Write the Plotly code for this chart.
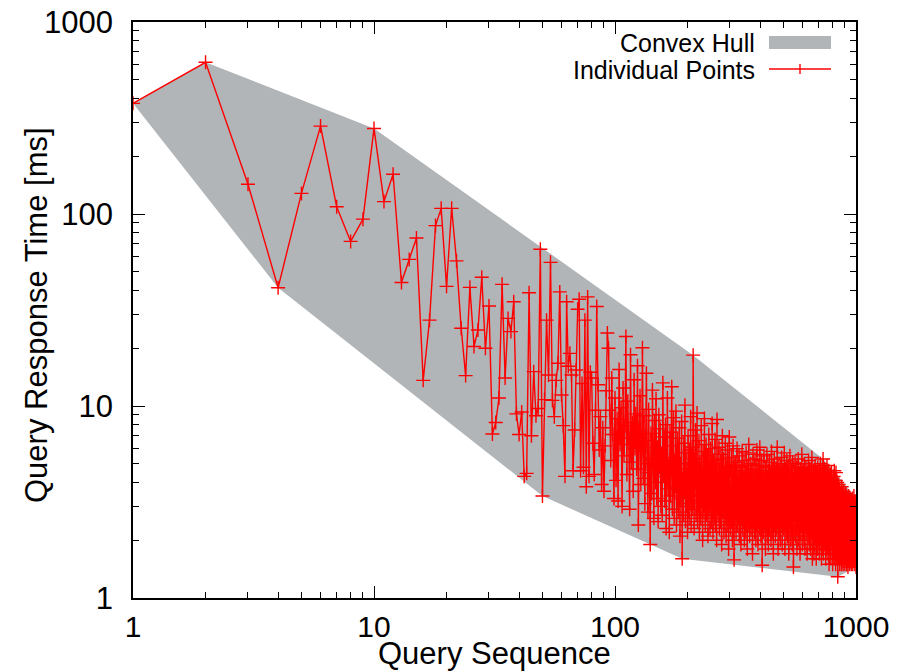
import math
import plotly.graph_objects as go

# ---------------- data ----------------
response_ms = [
    # 1-35
    377, 617, 143, 41.3, 128, 287, 109, 72, 94, 279,
    116, 161, 44, 58, 75, 13.6, 28, 87, 107, 42,
    107, 57, 25.4, 14.4, 41.5, 20.4, 24.9, 46.8, 20, 33.2,
    7.15, 8.2, 11, 43, 14,
    # 36-100
    28.6, 24.4, 34.9, 9.1, 7.1, 9.3, 4.3, 4.46, 38.9, 7.0,
    15.1, 8.9, 9.7, 65.5, 3.4, 10.8, 28, 14.5, 56, 10.7,
    8.8, 13.6, 16.7, 39.3, 11.4, 7.9, 4.3, 34.9, 16.1, 18.8,
    14.5, 4.6, 7.5, 15.4, 31.9, 36, 4.6, 13.1, 4.8, 28,
    3.8, 37, 4.3, 15, 14, 6.4, 4.4, 9.5, 33, 12.9,
    5.9, 8.8, 3.9, 7.7, 3.6, 6.2, 12, 24, 20, 9.5,
    5.2, 14, 7.1, 3.3, 11,
    # 101-200
    4.1, 8.6, 3.2, 15.5, 6.3, 9.8, 3.0, 12.4, 5.5, 7.9, 23, 4.4, 10.6, 6.8, 2.9, 18.5, 5.1, 8.2, 3.6, 13.7,
    6.0, 9.1, 4.7, 16.2, 2.4, 7.4, 11.3, 3.9, 5.8, 20.1, 4.2, 8.9, 3.1, 6.6, 14.8, 5.0, 2.8, 9.6, 4.5, 1.9,
    7.2, 3.5, 12.1, 5.3, 2.6, 8.4, 4.0, 10.9, 3.3, 6.1, 2.5, 9.0, 4.8, 7.6, 3.0, 5.6, 2.7, 13.2, 4.3, 6.9,
    3.2, 8.0, 2.3, 5.4, 11.0, 3.7, 4.9, 2.2, 7.3, 3.4, 6.2, 12.6, 2.9, 4.6, 8.7, 2.6, 5.2, 3.8, 9.4, 2.4,
    4.4, 6.8, 2.8, 3.9, 7.7, 2.1, 5.0, 3.3, 8.3, 1.6, 4.2, 2.7, 6.4, 3.6, 10.1, 2.5, 5.7, 3.0, 4.7, 2.2,
    # 201-300
    7.0, 3.5, 2.6, 5.9, 3.1, 8.8, 2.4, 4.5, 6.1, 2.9, 18.4, 3.8, 2.3, 5.3, 4.0, 7.5, 2.7, 3.4, 9.2, 2.5,
    4.8, 3.0, 6.6, 2.2, 5.1, 3.7, 2.6, 7.9, 3.2, 4.3, 2.0, 5.8, 3.5, 2.8, 8.6, 3.9, 2.4, 4.6, 6.3, 2.7,
    3.3, 5.5, 2.1, 4.1, 7.1, 2.9, 3.6, 2.3, 6.0, 3.1, 4.9, 2.5, 8.1, 3.4, 2.2, 5.2, 3.8, 2.6, 4.4, 6.7,
    2.4, 3.5, 5.0, 2.0, 8.5, 3.2, 4.2, 2.7, 3.9, 6.1, 2.3, 4.7, 3.0, 2.5, 5.6, 3.6, 1.9, 4.0, 7.0, 2.8,
    3.4, 5.3, 2.2, 4.5, 3.1, 2.6, 6.4, 3.7, 2.1, 4.8, 3.3, 2.4, 5.9, 2.9, 3.8, 1.8, 4.3, 6.9, 2.7, 3.5,
    # 301-400
    2.3, 4.6, 3.0, 5.4, 2.5, 3.9, 2.0, 4.1, 6.2, 2.8, 3.4, 1.58, 4.9, 3.1, 2.6, 5.1, 3.6, 2.2, 4.4, 2.9,
    6.0, 3.3, 2.4, 4.0, 2.7, 3.7, 5.5, 2.1, 3.2, 4.6, 2.5, 3.9, 1.9, 4.8, 3.0, 2.6, 5.8, 3.5, 2.3, 4.2,
    2.8, 3.4, 5.2, 2.0, 3.8, 2.5, 4.5, 3.1, 2.2, 5.7, 3.6, 2.7, 4.1, 1.8, 3.3, 4.9, 2.4, 3.0, 6.3, 2.6,
    3.7, 2.1, 4.4, 3.2, 2.8, 5.0, 2.3, 3.9, 2.6, 4.7, 3.4, 1.7, 3.1, 5.6, 2.5, 3.6, 2.9, 4.2, 2.2, 3.5,
    5.3, 2.7, 3.8, 2.0, 4.6, 3.0, 2.4, 5.9, 3.3, 2.6, 4.1, 1.9, 3.7, 2.8, 4.9, 3.2, 2.3, 3.6, 6.1, 2.5,
    # 401-500
    3.1, 4.3, 2.1, 3.5, 2.7, 5.2, 3.0, 1.48, 3.9, 2.6, 4.5, 2.9, 3.4, 2.2, 5.5, 3.2, 2.5, 4.0, 2.8, 3.6,
    1.8, 4.8, 3.0, 2.4, 3.8, 2.7, 5.6, 2.1, 3.3, 4.2, 2.6, 3.5, 1.9, 4.6, 2.9, 3.2, 5.1, 2.3, 3.7, 2.8,
    4.4, 2.5, 3.1, 2.0, 3.9, 5.8, 2.7, 3.4, 2.2, 4.1, 3.0, 2.6, 4.9, 1.7, 3.6, 2.9, 3.3, 5.3, 2.4, 3.8,
    2.8, 4.5, 2.1, 3.2, 2.6, 3.9, 4.7, 2.3, 3.5, 2.9, 6.1, 2.5, 3.0, 4.2, 1.8, 3.6, 2.7, 3.3, 5.0, 2.2,
    3.8, 2.6, 4.4, 3.1, 2.0, 3.5, 2.8, 4.8, 2.4, 3.2, 5.4, 2.7, 3.9, 1.9, 3.0, 4.3, 2.5, 3.6, 2.9, 4.6,
    # 501-600
    2.3, 3.4, 2.8, 5.7, 2.6, 3.1, 1.8, 4.0, 3.3, 2.4, 4.7, 2.9, 3.7, 2.2, 3.5, 5.2, 2.7, 3.0, 2.1, 4.1,
    3.2, 2.6, 4.9, 2.4, 3.6, 1.7, 3.9, 2.8, 4.4, 3.1, 2.5, 5.5, 2.9, 3.4, 2.0, 3.8, 2.7, 4.2, 3.0, 2.3,
    4.6, 2.8, 3.5, 1.9, 3.2, 5.1, 2.6, 3.8, 2.4, 1.45, 4.0, 2.9, 3.3, 2.2, 4.5, 3.6, 2.7, 3.1, 5.0, 2.5,
    3.4, 2.1, 4.3, 2.8, 3.7, 2.4, 3.0, 4.8, 1.8, 3.5, 2.6, 4.1, 2.9, 3.2, 2.3, 5.3, 2.7, 3.6, 2.0, 3.9,
    2.5, 4.4, 3.1, 2.8, 3.4, 1.7, 4.7, 2.6, 3.3, 2.2, 3.8, 2.9, 4.2, 2.4, 3.0, 5.6, 2.7, 3.5, 1.9, 3.2,
    # 601-700
    4.0, 2.6, 3.6, 2.3, 4.6, 2.9, 3.1, 2.0, 3.9, 2.7, 5.0, 2.4, 3.3, 1.8, 4.3, 2.8, 3.5, 2.5, 3.0, 4.8,
    2.2, 3.7, 2.6, 4.1, 2.9, 3.2, 1.7, 3.8, 2.4, 4.5, 2.7, 3.4, 2.1, 3.9, 5.2, 2.5, 3.0, 2.8, 4.2, 1.9,
    3.3, 2.6, 4.7, 2.3, 3.6, 2.9, 3.1, 1.8, 4.0, 2.7, 3.5, 2.4, 4.4, 3.0, 2.2, 5.4, 2.8, 3.3, 1.6, 3.8,
    2.5, 4.1, 2.9, 3.2, 2.1, 3.7, 2.6, 4.6, 1.7, 3.4, 2.8, 3.0, 4.3, 2.4, 3.6, 1.9, 4.9, 2.7, 3.1, 2.3,
    3.9, 2.6, 3.3, 1.6, 4.5, 2.9, 2.2, 3.5, 2.7, 4.0, 1.8, 3.2, 2.5, 4.8, 2.8, 3.4, 2.0, 3.7, 2.6, 3.0,
    # 701-800
    4.2, 2.3, 3.6, 1.7, 2.9, 4.6, 2.5, 3.1, 2.1, 3.8, 2.7, 5.0, 2.4, 3.3, 1.9, 4.1, 2.8, 3.0, 1.6, 3.5,
    2.6, 4.4, 2.2, 3.2, 2.9, 1.8, 3.9, 2.5, 3.4, 5.3, 2.7, 3.0, 1.7, 4.3, 2.4, 3.6, 2.1, 2.8, 4.7, 2.6,
    3.3, 1.9, 3.8, 2.5, 3.1, 2.2, 4.5, 2.8, 1.6, 3.5, 2.7, 4.0, 2.3, 3.2, 1.8, 3.7, 2.6, 4.9, 2.4, 3.0,
    2.1, 3.6, 2.8, 4.2, 1.7, 3.3, 2.5, 3.9, 2.2, 3.0, 4.6, 2.6, 1.5, 3.4, 2.9, 3.7, 2.3, 4.1, 2.7, 1.8,
    3.2, 2.4, 4.4, 2.8, 3.5, 1.6, 3.0, 2.5, 3.8, 2.1, 4.5, 2.7, 3.3, 1.9, 2.9, 3.6, 2.3, 4.0, 2.6, 1.5,
    # 801-900
    3.4, 2.2, 3.9, 2.8, 1.7, 3.1, 2.5, 4.3, 2.0, 3.6, 2.7, 1.6, 4.6, 2.4, 3.2, 2.9, 1.8, 3.7, 2.6, 3.0,
    2.2, 3.5, 1.5, 4.1, 2.8, 4.5, 2.4, 3.3, 1.7, 2.9, 3.8, 2.3, 1.6, 3.1, 2.6, 4.0, 2.1, 3.4, 1.8, 1.29,
    2.7, 3.6, 2.0, 3.2, 1.6, 2.9, 3.9, 2.4, 1.7, 3.3, 2.5, 1.9, 3.0, 2.2, 3.7, 1.5, 2.8, 2.4, 3.4, 1.8,
    2.6, 3.1, 1.6, 2.9, 2.2, 3.5, 1.9, 2.7, 3.2, 1.5, 2.5, 3.8, 2.1, 2.8, 1.7, 3.3, 2.4, 1.6, 3.0, 2.3,
    1.8, 3.4, 2.6, 1.5, 2.9, 2.2, 3.6, 1.7, 2.5, 3.1, 2.0, 2.8, 1.6, 3.3, 2.3, 1.9, 3.0, 2.6, 1.5, 2.7,
    # 901-1000
    3.2, 1.8, 2.4, 3.5, 1.6, 2.9, 2.1, 3.1, 1.7, 2.6, 3.4, 1.9, 2.3, 3.0, 1.5, 2.7, 2.2, 3.3, 1.8, 2.5,
    2.9, 1.6, 3.2, 2.0, 2.6, 1.45, 3.1, 2.3, 1.8, 2.8, 3.4, 1.7, 2.4, 2.9, 1.6, 3.0, 2.1, 2.6, 1.9, 3.2,
    1.5, 2.5, 2.8, 1.7, 3.3, 2.2, 1.9, 2.7, 3.0, 1.6, 2.4, 3.1, 1.8, 2.6, 2.1, 2.9, 1.5, 3.2, 2.3, 1.7,
    2.8, 2.0, 3.0, 1.6, 2.5, 3.3, 1.8, 2.2, 2.9, 1.5, 2.7, 3.1, 1.9, 2.4, 1.6, 3.0, 2.1, 2.6, 1.7, 3.4,
    2.2, 1.8, 2.9, 2.5, 1.6, 3.1, 2.0, 2.7, 1.5, 2.4, 3.2, 1.9, 2.6, 1.7, 3.0, 2.3, 1.6, 2.8, 2.1, 1.45,
]
query_seq = list(range(1, len(response_ms) + 1))

x_tick_vals = [1, 10, 100, 1000]
x_tick_text = ["1", "10", "100", "1000"]
y_tick_vals = [1, 10, 100, 1000]
y_tick_text = ["1", "10", "100", "1000"]
minor_multipliers = [2, 3, 4, 5, 6, 7, 8, 9]

legend_labels = ["Convex Hull", "Individual Points"]
x_title = "Query Sequence"
y_title = "Query Response Time [ms]"

HULL_GREY = "#b1b5b7"
RED = "#ff0000"
FONT = "Liberation Sans, Arial, Helvetica, sans-serif"


# ---- convex hull of the points in log-log space (monotone chain) ----
def convex_hull(pts):
    pts = sorted(set(pts))

    def cross(o, a, b):
        return (a[0] - o[0]) * (b[1] - o[1]) - (a[1] - o[1]) * (b[0] - o[0])

    lower, upper = [], []
    for p in pts:
        while len(lower) >= 2 and cross(lower[-2], lower[-1], p) <= 0:
            lower.pop()
        lower.append(p)
    for p in reversed(pts):
        while len(upper) >= 2 and cross(upper[-2], upper[-1], p) <= 0:
            upper.pop()
        upper.append(p)
    return lower[:-1] + upper[:-1]


log_pts = [(math.log10(x), math.log10(y)) for x, y in zip(query_seq, response_ms)]
hull = convex_hull(log_pts)
hull.append(hull[0])
hull_x = [10 ** p[0] for p in hull]
hull_y = [10 ** p[1] for p in hull]

minor_vals = [m * d for d in x_tick_vals[:-1] for m in minor_multipliers]

fig = go.Figure()
fig.add_trace(go.Scatter(
    x=hull_x, y=hull_y, mode="lines", fill="toself",
    fillcolor=HULL_GREY, line=dict(width=0, color=HULL_GREY),
    hoverinfo="skip", showlegend=False, name=legend_labels[0],
))
fig.add_trace(go.Scatter(
    x=query_seq, y=response_ms, mode="lines+markers",
    line=dict(color=RED, width=1.4),
    marker=dict(symbol="cross-thin", size=10, line=dict(color=RED, width=1.4)),
    showlegend=False, name=legend_labels[1],
))

axis_common = dict(
    type="log", showgrid=False, zeroline=False, automargin=False,
    showline=True, linecolor="black", linewidth=1.5, mirror="allticks",
    ticks="inside", ticklen=12, tickwidth=1.2, tickcolor="black",
    minor=dict(ticks="inside", ticklen=6, tickwidth=1.2, tickcolor="black",
               showgrid=False, tickmode="array", tickvals=minor_vals),
)

fig.update_xaxes(
    range=[0, 3], tickmode="array", tickvals=x_tick_vals, ticktext=x_tick_text,
    tickfont=dict(family=FONT, size=30, color="black"),
    ticklabelstandoff=1, **axis_common,
)
fig.update_yaxes(
    range=[0, 3], tickmode="array", tickvals=y_tick_vals, ticktext=y_tick_text,
    tickfont=dict(family=FONT, size=31, color="black"),
    ticklabelstandoff=12, **axis_common,
)

# ---- custom legend (text right-aligned, key on the right, as in gnuplot) ----
px0, px1, py0, py1 = 133, 856, 22, 598


def xp(px):
    return (px - px0) / (px1 - px0)


def yp(py):
    return (py1 - py) / (py1 - py0)


shapes = [
    dict(type="rect", xref="paper", yref="paper", x0=xp(769), x1=xp(831), y0=yp(49), y1=yp(36),
         fillcolor=HULL_GREY, line=dict(width=0)),
    dict(type="line", xref="paper", yref="paper", x0=xp(769), x1=xp(831), y0=yp(69), y1=yp(69),
         line=dict(color=RED, width=1.4)),
    dict(type="line", xref="paper", yref="paper", x0=xp(800), x1=xp(800), y0=yp(64), y1=yp(74),
         line=dict(color=RED, width=1.4)),
]
annotations = [
    dict(text=legend_labels[0], xref="paper", yref="paper", x=xp(757), y=yp(43),
         xanchor="right", yanchor="middle", showarrow=False,
         font=dict(family=FONT, size=25, color="black")),
    dict(text=legend_labels[1], xref="paper", yref="paper", x=xp(757), y=yp(70),
         xanchor="right", yanchor="middle", showarrow=False,
         font=dict(family=FONT, size=25, color="black")),
    dict(text=y_title, xref="paper", yref="paper", x=xp(36), y=yp(315), textangle=-90,
         xanchor="center", yanchor="middle", showarrow=False,
         font=dict(family=FONT, size=31, color="black")),
    dict(text=x_title, xref="paper", yref="paper", x=xp(494), y=yp(653),
         xanchor="center", yanchor="middle", showarrow=False,
         font=dict(family=FONT, size=31, color="black")),
]

fig.update_layout(
    width=899, height=672,
    margin=dict(l=px0, r=899 - px1, t=py0, b=672 - py1),
    paper_bgcolor="white", plot_bgcolor="white",
    shapes=shapes, annotations=annotations,
    font=dict(family=FONT, color="black"),
    showlegend=False,
)

fig.write_html(
    "out.html",
    config={"displayModeBar": False},
    post_script="document.body.style.margin='0';document.body.style.overflow='hidden';",
)
